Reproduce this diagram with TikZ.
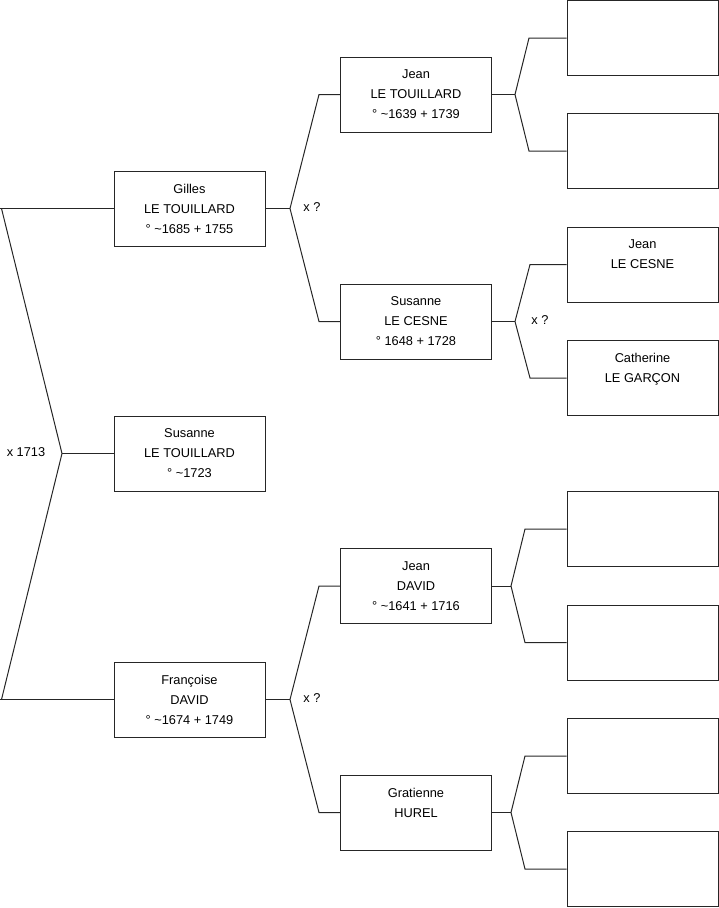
\documentclass[tikz,border=0pt]{standalone}
\usepackage{fontspec}
\setmainfont{Liberation Sans}
\newcommand{\ca}{\textasciitilde}

\begin{document}
\begin{tikzpicture}[x=1pt, y=-1pt, line width=1pt, draw=black!85,
    person/.style = {draw = black!85, rectangle, minimum width = 151pt, minimum height = 75pt,
                     inner sep = 0pt, align = center, font = \fontsize{12.8}{20}\selectfont},
    union/.style  = {inner sep = 0pt, font = \fontsize{12.8}{20}\selectfont}]
        \useasboundingbox (0,0) rectangle (719,908);

        % generation 1
        \node[person] (gilles)    at (189.5,208.5) {Gilles\\LE TOUILLARD\\° \ca1685 + 1755};
        \node[person] (susanne)   at (189.5,453.5) {Susanne\\LE TOUILLARD\\° \ca1723};
        \node[person] (francoise) at (189.5,699.5) {Françoise\\DAVID\\° \ca1674 + 1749};

        % generation 2
        \node[person] (jeanlt)    at (416,94.5)  {Jean\\LE TOUILLARD\\° \ca1639 + 1739};
        \node[person] (susannelc) at (416,321.5) {Susanne\\LE CESNE\\° 1648 + 1728};
        \node[person] (jeandv)    at (416,586)   {Jean\\DAVID\\° \ca1641 + 1716};
        \node[person] (gratienne) at (416,812.5) {Gratienne\\HUREL\\\mbox{}};

        % generation 3
        \node[person] (p1) at (642.5,38)    {};
        \node[person] (p2) at (642.5,151)   {};
        \node[person] (jeanlc)    at (642.5,264.5) {Jean\\LE CESNE\\\mbox{}};
        \node[person] (catherine) at (642.5,378)   {Catherine\\LE GARÇON\\\mbox{}};
        \node[person] (p5) at (642.5,529)   {};
        \node[person] (p6) at (642.5,642.5) {};
        \node[person] (p7) at (642.5,756)   {};
        \node[person] (p8) at (642.5,869)   {};

        % marriage labels
        \node[union] (m0) at (26,452)  {x 1713};
        \node[union] (m1) at (312,207) {x ?};
        \node[union] (m2) at (312,698) {x ?};
        \node[union] (m3) at (540,320) {x ?};

        % bracket points
        \coordinate (r0) at (62,453.5);
        \coordinate (r0t) at (1.5,208.5);
        \coordinate (r0b) at (1.5,699.5);

        \coordinate (r1) at (290,208.5);
        \coordinate (r1t) at (319,94.5);
        \coordinate (r1b) at (319,321.5);

        \coordinate (r2) at (290,699.5);
        \coordinate (r2t) at (319,586);
        \coordinate (r2b) at (319,812.5);

        \coordinate (r3) at (515,94.5);
        \coordinate (r3t) at (529,38);
        \coordinate (r3b) at (529,151);

        \coordinate (r4) at (515,321.5);
        \coordinate (r4t) at (530,264.5);
        \coordinate (r4b) at (530,378);

        \coordinate (r5) at (511,586);
        \coordinate (r5t) at (525,529);
        \coordinate (r5b) at (525,642.5);

        \coordinate (r6) at (511,812.5);
        \coordinate (r6t) at (525,756);
        \coordinate (r6b) at (525,869);

        % brackets
        \draw (gilles.west) -- (0,208.5);
        \draw (francoise.west) -- (0,699.5);
        \draw (r0t) -- (r0) -- (r0b);
        \draw (r0) -- (susanne.west);

        \draw (gilles.east) -- (r1);
        \draw (jeanlt.west) -- (r1t) -- (r1) -- (r1b) -- (susannelc.west);

        \draw (francoise.east) -- (r2);
        \draw (jeandv.west) -- (r2t) -- (r2) -- (r2b) -- (gratienne.west);

        \draw (jeanlt.east) -- (r3);
        \draw (p1.west) -- (r3t) -- (r3) -- (r3b) -- (p2.west);

        \draw (susannelc.east) -- (r4);
        \draw (jeanlc.west) -- (r4t) -- (r4) -- (r4b) -- (catherine.west);

        \draw (jeandv.east) -- (r5);
        \draw (p5.west) -- (r5t) -- (r5) -- (r5b) -- (p6.west);

        \draw (gratienne.east) -- (r6);
        \draw (p7.west) -- (r6t) -- (r6) -- (r6b) -- (p8.west);
    \end{tikzpicture}
\end{document}
